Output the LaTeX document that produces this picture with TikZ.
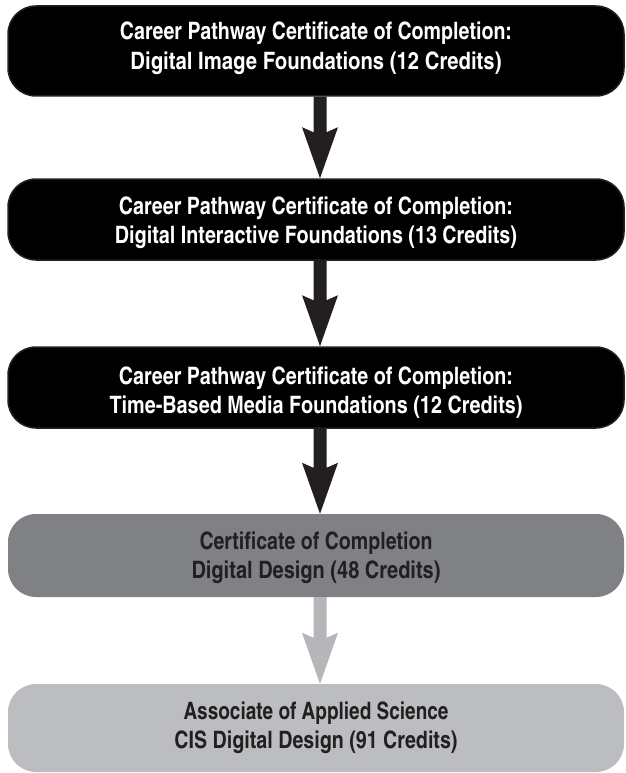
\documentclass[tikz,border=0pt]{standalone}
\usepackage{fontspec}
\setmainfont{texgyreheroscn-bold.otf}
\usepackage{graphicx}
\definecolor{boxedge}{HTML}{231F20}
\definecolor{arrowdark}{HTML}{231F20}
\definecolor{midgray}{HTML}{808185}
\definecolor{lightgray}{HTML}{BCBDC0}
\definecolor{arrowlight}{HTML}{B5B6B9}
\definecolor{darktext}{HTML}{231F20}
\newcommand\twoline[5]{%
  \makebox[0pt]{\raisebox{#1}[0pt][0pt]{\resizebox{#2}{\height}{#3}}}%
  \makebox[0pt]{\raisebox{\dimexpr#1-29.5pt\relax}[0pt][0pt]{\resizebox{#4}{\height}{#5}}}}
\newcommand\flowarrow[3]{%
  \fill[#3] ([xshift=-2.5pt]#1.south) -- ([xshift=10.5pt]#1.south)
    -- ([xshift=10.5pt,yshift=46pt]#2.north) -- ([xshift=22pt,yshift=51pt]#2.north)
    -- ([xshift=4pt]#2.north) -- ([xshift=-14pt,yshift=51pt]#2.north)
    -- ([xshift=-2.5pt,yshift=46pt]#2.north) -- cycle;}
\begin{document}
\begin{tikzpicture}[x=1pt,y=-1pt,
  basebox/.style={rounded corners=28pt, minimum width=616pt, inner sep=0pt,
    font=\fontsize{24}{29}\selectfont},
  blackbox/.style={basebox, fill=black, draw=boxedge, line width=1.5pt, text=white},
  midbox/.style={basebox, fill=midgray, draw=none, text=darktext},
  lightbox/.style={basebox, fill=lightgray, draw=none, text=darktext}]
\useasboundingbox (0,0) rectangle (625,773);
\node[blackbox, minimum height=90pt] (b1) at (316,51)
  {\twoline{11pt}{392pt}{Career Pathway Certificate of Completion:}{371pt}{Digital Image Foundations (12 Credits)}};
\node[blackbox, minimum height=81pt] (b2) at (316,219.5)
  {\twoline{5.2pt}{394pt}{Career Pathway Certificate of Completion:}{402pt}{Digital Interactive Foundations (13 Credits)}};
\node[blackbox, minimum height=81pt] (b3) at (316,387.5)
  {\twoline{3.5pt}{394pt}{Career Pathway Certificate of Completion:}{413pt}{Time-Based Media Foundations (12 Credits)}};
\node[midbox, minimum height=83pt] (b4) at (316,555.5)
  {\twoline{6.5pt}{233pt}{Certificate of Completion}{249pt}{Digital Design (48 Credits)}};
\node[lightbox, minimum height=88pt] (b5) at (316,728)
  {\twoline{9pt}{265pt}{Associate of Applied Science}{283pt}{CIS Digital Design (91 Credits)}};
\flowarrow{b1}{b2}{arrowdark}
\flowarrow{b2}{b3}{arrowdark}
\flowarrow{b3}{b4}{arrowdark}
\flowarrow{b4}{b5}{arrowlight}
\end{tikzpicture}
\end{document}
